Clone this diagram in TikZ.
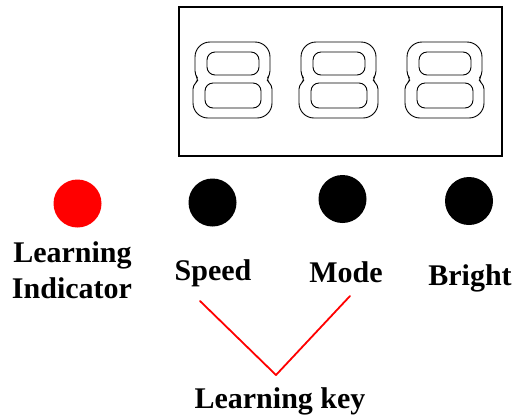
\documentclass[tikz,border=0pt]{standalone}
\usepackage{fontspec}
\setmainfont{Liberation Serif}
\begin{document}
\begin{tikzpicture}[x=1bp,y=-1bp,
  lbl/.style={font=\fontsize{30bp}{33bp}\selectfont\bfseries, anchor=base, inner sep=0pt},
  led/.style={circle, fill=black, minimum size=48bp, inner sep=0pt},
  keyline/.style={draw=red, line width=1.8bp, line join=round, line cap=round},
  digit/.pic={
    \draw[line width=0.9bp] (6,38) [rounded corners=4bp]-- (2,33) [rounded corners=15bp]-- (2,0) -- (77,0) [rounded corners=4bp]-- (77,33) -- (73,38) -- (79,43) [rounded corners=15bp]-- (79,76) -- (0,76) [rounded corners=4bp]-- (0,43) -- cycle;
    \draw[line width=0.9bp, rounded corners=8bp] (14,10) rectangle (66,33);
    \draw[line width=0.9bp, rounded corners=8bp] (12,41) rectangle (68,66);
  }]
\useasboundingbox (0,0) rectangle (516,414);
% display box
\node[draw, line width=1.2bp, minimum width=323bp, minimum height=149bp, inner sep=0pt] (disp) at (340.5,81.5) {};
\pic at (193,42) {digit};
\pic at (299,42) {digit};
\pic at (405,42) {digit};
% LEDs
\node[led, fill=red] (ind) at (77.5,203.5) {};
\node[led] (spd) at (212.5,202.5) {};
\node[led] (mode) at (342.5,199) {};
\node[led] (brt) at (469,201) {};
% labels
\node[lbl] (l1) at (72.5,262) {Learning};
\node[lbl] (l2) at (72,298) {Indicator};
\node[lbl] (ls) at (213,280) {Speed};
\node[lbl] (lm) at (346,282) {Mode};
\node[lbl] (lb) at (470,285) {Bright};
\node[lbl] (lk) at (280,408) {Learning key};
% learning key connector
\coordinate (s) at (200,301);
\coordinate (v) at (276,375);
\coordinate (m) at (350,296);
\draw[keyline] (s) -- (v) -- (m);
\end{tikzpicture}
\end{document}
